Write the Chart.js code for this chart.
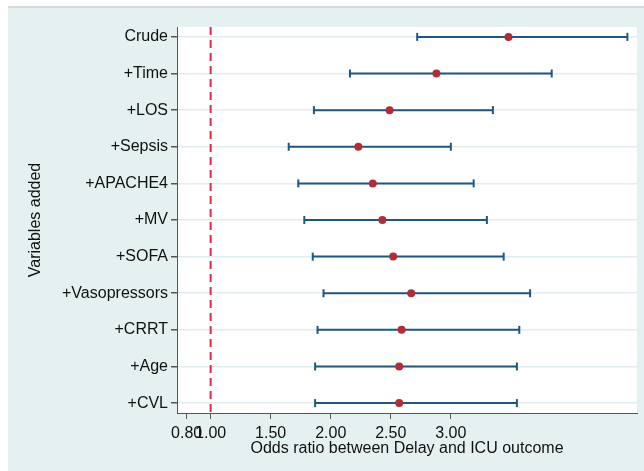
<!DOCTYPE html>
<html>
<head>
<meta charset="utf-8">
<script src="https://cdn.jsdelivr.net/npm/chart.js@4"></script>
<style>
  html, body { margin: 0; padding: 0; background: #ffffff; }
  #wrap { width: 644px; height: 471px; position: relative; }
</style>
</head>
<body>
<div id="wrap"><canvas id="forest"></canvas></div>
<script>
/* ===============================
   DATA
================================= */

const variables = ["Crude", "+Time", "+LOS", "+Sepsis", "+APACHE4", "+MV",
  "+SOFA", "+Vasopressors", "+CRRT", "+Age", "+CVL"];

const oddsRatio = [3.48, 2.88, 2.49, 2.23, 2.35, 2.43, 2.52, 2.67, 2.59, 2.57, 2.57];
const ciLower   = [2.72, 2.16, 1.86, 1.65, 1.73, 1.78, 1.85, 1.94, 1.89, 1.87, 1.87];
const ciUpper   = [4.47, 3.84, 3.35, 3.00, 3.19, 3.30, 3.44, 3.66, 3.57, 3.55, 3.55];

const xTickValues = [0.8, 1.0, 1.5, 2.0, 2.5, 3.0];
const xTickLabels = ["0.80", "1.00", "1.50", "2.00", "2.50", "3.00"];

const nullValue = 1.0;
const xMin = 0.72, xMax = 4.55;
const yMin = -0.27, yMax = 10.27;

/* ===============================
   COLOURS / FONT
================================= */

const panelColor = "#e5f0f1";
const pointColor = "#b12e36";
const ciColor = "#1e5781";
const refColor = "#e0284a";
const gridColor = "#e2ecf1";
const axisColor = "#555555";
const textColor = "#111111";
const fontFamily = "'Liberation Sans', Arial, sans-serif";

/* ===============================
   BACKGROUND PLUGIN
================================= */

const panelBackground = {
  id: "panelBackground",
  beforeDraw(chart) {
    const { ctx, chartArea, width, height } = chart;
    ctx.save();
    ctx.fillStyle = "#ffffff";
    ctx.fillRect(0, 0, width, height);
    ctx.fillStyle = "#d9d9d9";
    ctx.fillRect(8, 6, width - 8, 2);
    ctx.fillStyle = panelColor;
    ctx.fillRect(8, 8, width - 8, height - 8);
    ctx.fillStyle = "#ffffff";
    ctx.fillRect(chartArea.left, chartArea.top,
      chartArea.right - chartArea.left, chartArea.bottom - chartArea.top);
    ctx.restore();
  }
};

/* ===============================
   DATASETS
================================= */

const estimateSet = {
  type: "scatter",
  data: oddsRatio.map((v, i) => ({ x: v, y: i })),
  backgroundColor: pointColor,
  borderColor: pointColor,
  pointRadius: 4,
  pointBorderWidth: 0
};

const ciSets = variables.map((name, i) => ({
  type: "line",
  data: [{ x: ciLower[i], y: i }, { x: ciUpper[i], y: i }],
  borderColor: ciColor,
  borderWidth: 2,
  pointStyle: "line",
  rotation: 90,
  pointRadius: 4,
  pointBorderWidth: 2,
  pointBorderColor: ciColor
}));

const refSet = {
  type: "line",
  data: [{ x: nullValue, y: yMin }, { x: nullValue, y: yMax }],
  borderColor: refColor,
  borderWidth: 2,
  borderDash: [8, 5],
  pointRadius: 0
};

/* ===============================
   CHART
================================= */

new Chart(document.getElementById("forest"), {
  type: "scatter",
  data: { datasets: [estimateSet, ...ciSets, refSet] },
  options: {
    responsive: true,
    maintainAspectRatio: false,
    animation: false,
    layout: { padding: { top: 27, right: 7, left: 0, bottom: 0 } },
    plugins: { legend: { display: false }, tooltip: { enabled: false } },
    scales: {
      x: {
        type: "linear",
        min: xMin,
        max: xMax,
        afterBuildTicks(scale) {
          scale.ticks = xTickValues.map(v => ({ value: v }));
        },
        afterFit(scale) { scale.height = 58; },
        ticks: {
          autoSkip: false,
          maxRotation: 0,
          minRotation: 0,
          padding: 5,
          color: textColor,
          font: { family: fontFamily, size: 16 },
          callback: (v) => xTickLabels[xTickValues.indexOf(v)]
        },
        grid: { drawOnChartArea: false, drawTicks: true, tickLength: 6, tickColor: axisColor },
        border: { color: axisColor, width: 1 },
        title: {
          display: true,
          text: "Odds ratio between Delay and ICU outcome",
          color: textColor,
          font: { family: fontFamily, size: 16 },
          padding: { top: 0, bottom: 13 }
        }
      },
      y: {
        type: "linear",
        reverse: true,
        min: yMin,
        max: yMax,
        afterBuildTicks(scale) {
          scale.ticks = variables.map((n, i) => ({ value: i }));
        },
        afterFit(scale) { scale.width = 177; },
        ticks: {
          autoSkip: false,
          padding: 3,
          color: textColor,
          font: { family: fontFamily, size: 16 },
          callback: (v) => variables[v]
        },
        grid: { color: gridColor, lineWidth: 1.5, tickLength: 6, tickColor: axisColor },
        border: { color: axisColor, width: 1 },
        title: {
          display: true,
          text: "Variables added",
          color: textColor,
          font: { family: fontFamily, size: 16 },
          padding: { top: 26, bottom: 0 }
        }
      }
    }
  },
  plugins: [panelBackground]
});
</script>
</body>
</html>
